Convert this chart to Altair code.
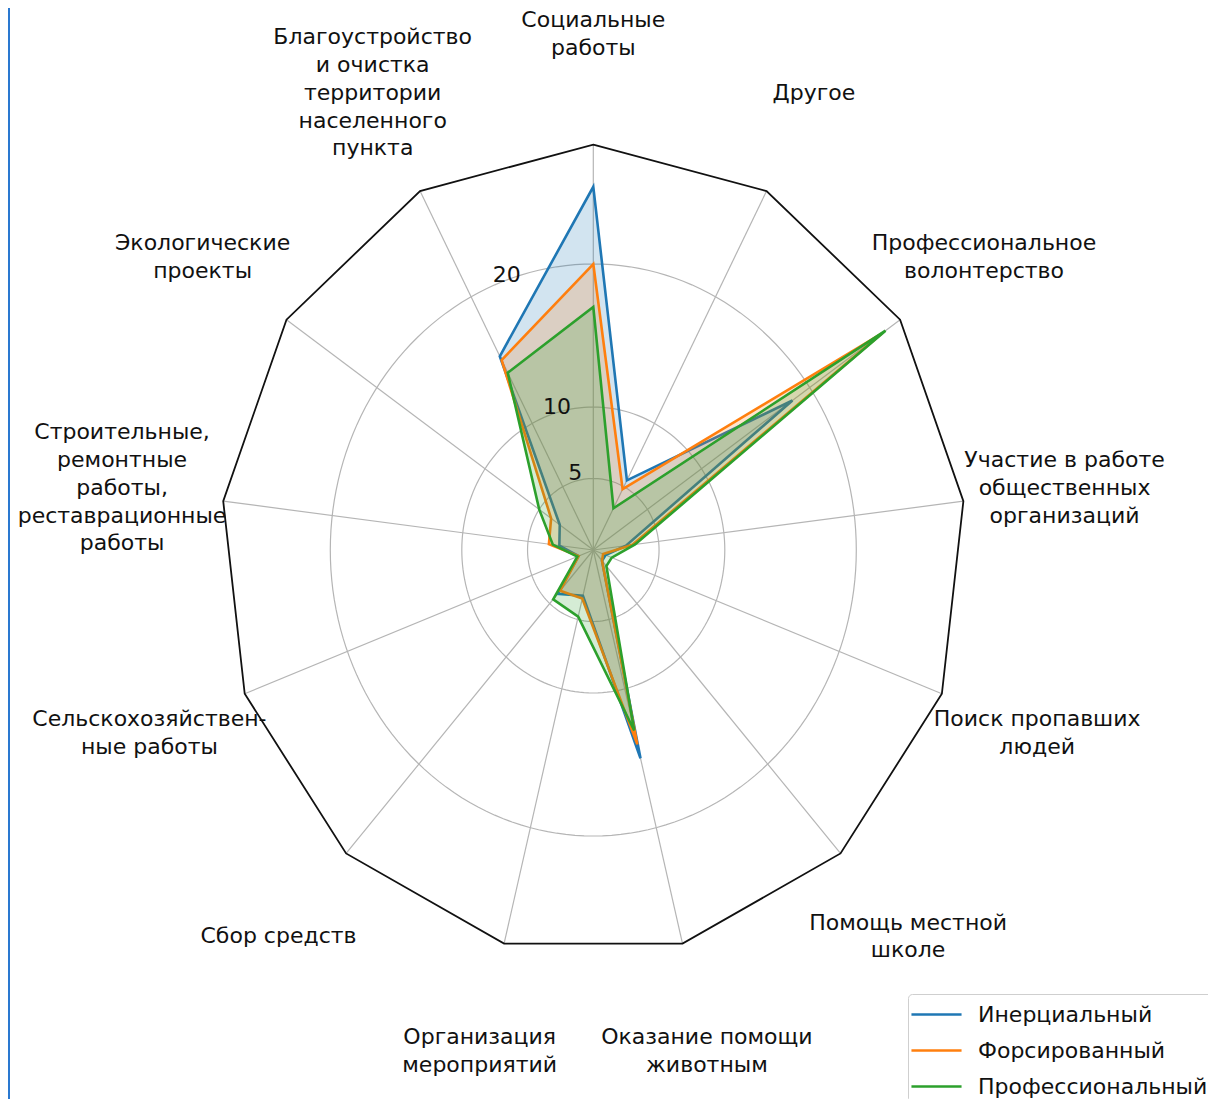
import altair as alt
import pandas as pd

CATEGORIES = [
    "Социальные\nработы",
    "Другое",
    "Профессиональное\nволонтерство",
    "Участие в работе\nобщественных\nорганизаций",
    "Поиск пропавших\nлюдей",
    "Помощь местной\nшколе",
    "Оказание помощи\nживотным",
    "Организация\nмероприятий",
    "Сбор средств",
    "Сельскохозяйствен-\nные работы",
    "Строительные,\nремонтные\nработы,\nреставрационные\nработы",
    "Экологические\nпроекты",
    "Благоустройство\nи очистка\nтерритории\nнаселенного\nпункта",
]
INERTIAL = [25.4, 5.5, 18.4, 2.5, 1.0, 1.0, 15.0, 3.3, 4.1, 1.2, 2.6, 3.1, 15.3]
FORCED = [20.0, 4.8, 26.6, 3.0, 0.8, 1.0, 14.0, 3.5, 3.8, 1.2, 3.4, 3.9, 15.0]
PROFESSIONAL = [17.0, 3.3, 27.0, 3.2, 1.5, 1.5, 13.0, 4.8, 4.6, 1.3, 3.1, 5.0, 14.0]
SERIES = ["Инерциальный", "Форсированный", "Профессиональный"]
COLORS = ["#1f77b4", "#ff7f0e", "#2ca02c"]
GRID_RINGS = [5, 10, 20]
TICK_LABELS = ["5", "10", "20"]
R_MAX = 28.35
LABEL_R = 36.1
N = len(CATEGORIES)

W, H = 1200, 1091
PX_X, PX_Y = 13.15, 14.3
CX, CY = 593.3 - 8, 550 - 8
XMIN = -CX / PX_X
XMAX = XMIN + W / PX_X
YMAX = CY / PX_Y
YMIN = YMAX - H / PX_Y

FONT = "DejaVu Sans"
FS = 22
LH = 27.8

cat_df = pd.DataFrame({
    "idx": list(range(N)),
    "label": CATEGORIES,
    "nlines": [c.count("\n") + 1 for c in CATEGORIES],
})
rows = []
for s, vals in zip(SERIES, [INERTIAL, FORCED, PROFESSIONAL]):
    for i, v in enumerate(vals):
        rows.append({"series": s, "idx": i, "value": v})
series_df = pd.DataFrame(rows)
ring_df = pd.DataFrame({"ring": GRID_RINGS, "tick": TICK_LABELS})

xs = alt.Scale(domain=[XMIN, XMAX], nice=False, zero=False)
ys = alt.Scale(domain=[YMIN, YMAX], nice=False, zero=False)

ANG = f"(90 - datum.idx * 360 / {N}) * PI / 180"

grid = (
    alt.Chart(ring_df)
    .transform_calculate(deg="sequence(0, 362, 2)")
    .transform_flatten(["deg"])
    .transform_calculate(
        gx="datum.ring * cos(datum.deg * PI / 180)",
        gy="datum.ring * sin(datum.deg * PI / 180)",
    )
    .mark_line(color="#b5b5b5", strokeWidth=1.2)
    .encode(
        x=alt.X("gx:Q", scale=xs, axis=None),
        y=alt.Y("gy:Q", scale=ys, axis=None),
        detail="ring:N",
        order="deg:Q",
    )
)

base_cat = alt.Chart(cat_df).transform_calculate(
    vx=f"{R_MAX} * cos({ANG})",
    vy=f"{R_MAX} * sin({ANG})",
    lx=f"{LABEL_R} * cos({ANG})",
    ly=f"{LABEL_R} * sin({ANG}) + (datum.nlines - 1) * {LH / 2} / {PX_Y}",
    zx="0",
    zy="0",
)

spokes = base_cat.mark_rule(color="#b5b5b5", strokeWidth=1.2).encode(
    x=alt.X("zx:Q", scale=xs, axis=None),
    y=alt.Y("zy:Q", scale=ys, axis=None),
    x2="vx:Q",
    y2="vy:Q",
)

frame = base_cat.mark_line(
    interpolate="linear-closed", color="#111111", strokeWidth=1.8
).encode(
    x=alt.X("vx:Q", scale=xs, axis=None),
    y=alt.Y("vy:Q", scale=ys, axis=None),
    order="idx:Q",
)

cat_labels = base_cat.mark_text(
    align="center", baseline="middle", lineBreak="\n", fontSize=FS,
    font=FONT, color="#111111", lineHeight=LH,
).encode(
    x=alt.X("lx:Q", scale=xs, axis=None),
    y=alt.Y("ly:Q", scale=ys, axis=None),
    text="label:N",
)

ticks = (
    alt.Chart(ring_df)
    .transform_calculate(
        tx="datum.ring * cos(112.5 * PI / 180)",
        ty="datum.ring * sin(112.5 * PI / 180)",
    )
    .mark_text(align="left", baseline="bottom", fontSize=FS, font=FONT,
               color="#111111", dy=1)
    .encode(
        x=alt.X("tx:Q", scale=xs, axis=None),
        y=alt.Y("ty:Q", scale=ys, axis=None),
        text="tick:N",
    )
)

poly_base = alt.Chart(series_df).transform_calculate(
    px=f"datum.value * cos({ANG})",
    py=f"datum.value * sin({ANG})",
)

legend = alt.Legend(
    title=None,
    orient="none",
    legendX=900,
    legendY=986,
    symbolType="M-1.67,0H1.67",
    symbolSize=900,
    symbolStrokeWidth=2.6,
    symbolOffset=8,
    labelFontSize=FS,
    labelFont=FONT,
    labelColor="#111111",
    labelOffset=25,
    padding=4,
    rowPadding=8,
    strokeColor="#cfcfcf",
    fillColor="white",
    cornerRadius=4,
    labelLimit=400,
)

poly_layers = []
for s, c in zip(SERIES, COLORS):
    sub = poly_base.transform_filter(alt.datum.series == s)
    poly_layers.append(
        sub.mark_line(
            interpolate="linear-closed", strokeOpacity=0, fill=c, fillOpacity=0.2
        ).encode(
            x=alt.X("px:Q", scale=xs, axis=None),
            y=alt.Y("py:Q", scale=ys, axis=None),
            order="idx:Q",
        )
    )
    poly_layers.append(
        sub.mark_line(interpolate="linear-closed", strokeWidth=2.6).encode(
            x=alt.X("px:Q", scale=xs, axis=None),
            y=alt.Y("py:Q", scale=ys, axis=None),
            color=alt.Color(
                "series:N",
                scale=alt.Scale(domain=SERIES, range=COLORS),
                legend=legend,
            ),
            order="idx:Q",
        )
    )

edge = alt.Chart(cat_df).mark_rule(color="#2a78d0", strokeWidth=2).encode(
    x=alt.value(0.5), y=alt.value(0), y2=alt.value(H)
)

chart = (
    alt.layer(grid, spokes, frame, *poly_layers, cat_labels, ticks, edge)
    .properties(width=W, height=H, padding=0, autosize=alt.AutoSizeParams(type="none"))
    .configure_view(strokeWidth=0)
)

chart.save("out.html", embed_options={"renderer": "svg", "actions": False})
